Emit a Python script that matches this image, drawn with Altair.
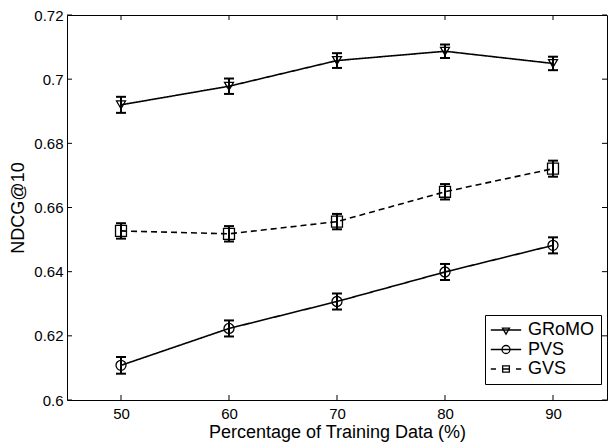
import altair as alt
import pandas as pd

# ---- data ----
pct = [50, 60, 70, 80, 90]
series = ["GRoMO", "PVS", "GVS"]
gromo = [0.6920, 0.6978, 0.7058, 0.7087, 0.7049]
gromo_err = [0.0025, 0.0024, 0.0023, 0.0021, 0.0021]
pvs = [0.6108, 0.6223, 0.6307, 0.6399, 0.6482]
pvs_err = [0.0026, 0.0025, 0.0025, 0.0025, 0.0025]
gvs = [0.6527, 0.6518, 0.6556, 0.6649, 0.6721]
gvs_err = [0.0024, 0.0024, 0.0024, 0.0024, 0.0025]
x_ticks = [50, 60, 70, 80, 90]
y_ticks = [0.6, 0.62, 0.64, 0.66, 0.68, 0.7, 0.72]

rows = []
for name, vals, errs in [("GRoMO", gromo, gromo_err), ("PVS", pvs, pvs_err), ("GVS", gvs, gvs_err)]:
    for p, v, e in zip(pct, vals, errs):
        rows.append({"series": name, "pct": p, "ndcg": v, "lo": v - e, "hi": v + e})
df = pd.DataFrame(rows)
df_xt = pd.DataFrame({"pct": x_ticks})
df_yt = pd.DataFrame({"ndcg": y_ticks})

W, H = 540, 385
FONT = "Liberation Sans"

xscale = alt.Scale(domain=[45, 95], nice=False, zero=False)
yscale = alt.Scale(domain=[0.6, 0.72], nice=False, zero=False)
xaxis = alt.Axis(title="Percentage of Training Data (%)", values=x_ticks, grid=False,
                 ticks=False, tickSize=0, domain=False, labelFontSize=15, titleFontSize=18,
                 labelFont=FONT, titleFont=FONT, labelColor="black", titleColor="black",
                 labelPadding=6, titlePadding=2, titleFontWeight="normal")
yaxis = alt.Axis(title="NDCG@10", values=y_ticks, format="~g", grid=False,
                 ticks=False, tickSize=0, domain=False, labelFontSize=15, titleFontSize=18,
                 labelFont=FONT, titleFont=FONT, labelColor="black", titleColor="black",
                 labelPadding=4, titlePadding=6, titleFontWeight="normal")

X = alt.X("pct:Q", scale=xscale, axis=xaxis)
Y = alt.Y("ndcg:Q", scale=yscale, axis=yaxis)

base = alt.Chart(df)

lines = base.mark_line(color="black", strokeWidth=1.6).encode(
    x=X, y=Y,
    detail="series:N",
    strokeDash=alt.StrokeDash("series:N", scale=alt.Scale(domain=series, range=[[1, 0], [1, 0], [6, 4]]), legend=None),
)

err = base.mark_rule(color="black", strokeWidth=2).encode(
    x=X, y=alt.Y("lo:Q", scale=yscale, axis=yaxis), y2="hi:Q"
)
cap_lo = base.mark_tick(color="black", orient="horizontal", size=10, thickness=2, opacity=1).encode(
    x=X, y=alt.Y("lo:Q", scale=yscale, axis=yaxis)
)
cap_hi = base.mark_tick(color="black", orient="horizontal", size=10, thickness=2, opacity=1).encode(
    x=X, y=alt.Y("hi:Q", scale=yscale, axis=yaxis)
)

points = base.mark_point(filled=False, color="black", strokeWidth=1.3, opacity=1).encode(
    x=X, y=Y,
    shape=alt.Shape("series:N", scale=alt.Scale(domain=series, range=["triangle-down", "circle", "square"]), legend=None),
    size=alt.Size("series:N", scale=alt.Scale(domain=series, range=[80, 120, 60]), legend=None),
)

# legend symbols: line sample + marker, in units of 8 px (symbolSize 256)
legend_paths = [
    "M-1.9,0H1.9M-0.44,-0.24L0.44,-0.24L0,0.52Z",
    "M-1.9,0H1.9M0.5,0A0.5,0.5,0,1,1,-0.5,0A0.5,0.5,0,1,1,0.5,0Z",
    "M-1.9,0H-1.25M1.25,0H1.9M-0.42,-0.4H0.42V0.4H-0.42ZM-0.42,0H0.42",
]
legend_layer = base.transform_filter("false").mark_point(filled=False, color="black", size=256, strokeWidth=1.3, opacity=1).encode(
    x=X, y=Y,
    shape=alt.Shape("series:N", scale=alt.Scale(domain=series, range=legend_paths),
                    legend=alt.Legend(title=None, orient="none", legendX=418, legendY=300,
                                      symbolSize=256, symbolOffset=6, symbolOpacity=1,
                                      symbolStrokeWidth=1.3, symbolStrokeColor="black",
                                      symbolFillColor="transparent",
                                      labelFont=FONT, labelFontSize=18, labelColor="black",
                                      labelOffset=13, rowPadding=1.5, padding=6,
                                      strokeColor="black", fillColor="white", cornerRadius=0)),
)

tick_b = alt.Chart(df_xt).mark_rule(color="black", strokeWidth=1).encode(x=X, y=alt.value(H), y2=alt.value(H - 5))
tick_t = alt.Chart(df_xt).mark_rule(color="black", strokeWidth=1).encode(x=X, y=alt.value(0), y2=alt.value(5))
tick_l = alt.Chart(df_yt).mark_rule(color="black", strokeWidth=1).encode(y=Y, x=alt.value(0), x2=alt.value(5))
tick_r = alt.Chart(df_yt).mark_rule(color="black", strokeWidth=1).encode(y=Y, x=alt.value(W - 5), x2=alt.value(W))

chart = alt.layer(
    tick_b, tick_t, tick_l, tick_r, lines, err, cap_lo, cap_hi, points, legend_layer
).resolve_scale(shape="independent").properties(
    width=W, height=H,
    padding={"left": 67, "top": 15, "right": 1, "bottom": 43},
    autosize=alt.AutoSizeParams(type="none"),
    background="white",
).configure_view(stroke="black", strokeWidth=1)

chart.save("out.html", embed_options={"renderer": "svg", "actions": False})
